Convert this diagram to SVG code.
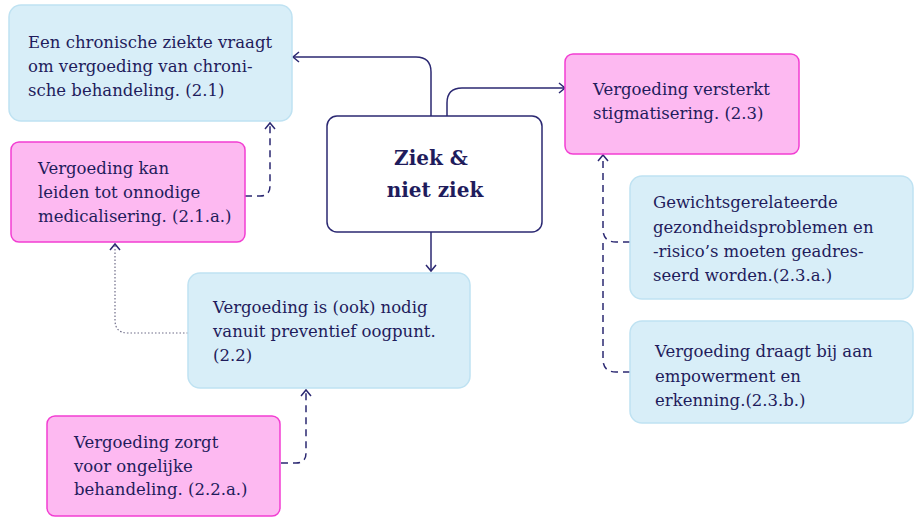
<svg xmlns="http://www.w3.org/2000/svg" width="919" height="525" viewBox="0 0 919 525">
<style>
.blue{fill:#d8eef8;stroke:#bfe2f2;stroke-width:1.5}
.pink{fill:#fdb9f1;stroke:#f23ed2;stroke-width:1.5}
.main{fill:#ffffff;stroke:#2b2872;stroke-width:1.5}
.t{font-family:"DejaVu Serif","Liberation Serif",serif;font-size:16.5px;fill:#1f1c5c}
.tb{font-family:"DejaVu Serif","Liberation Serif",serif;font-size:20px;font-weight:bold;fill:#1f1c5c}
.c{fill:none;stroke:#2b2872;stroke-width:1.5}
.d{stroke-dasharray:7 5}
.dot{stroke:#6e6c88;stroke-width:1.2;stroke-dasharray:1.5 2}
</style>
<defs>
<marker id="ah" viewBox="-8 -6 10 12" markerWidth="10" markerHeight="12" refX="0" refY="0" orient="auto" markerUnits="userSpaceOnUse">
<path d="M-6,-5 L0,0 L-6,5" fill="none" stroke="#2b2872" stroke-width="1.5"/>
</marker>
</defs>
<g id="connectors">
<path class="c" d="M431,116 V72 Q431,57 416,57 H293" marker-end="url(#ah)"/>
<path class="c" d="M447,116 V103 Q447,88 462,88 H565" marker-end="url(#ah)"/>
<path class="c" d="M431,232 V271" marker-end="url(#ah)"/>
<path class="c dot" d="M188,333 H128 Q115,333 115,320 V244" marker-end="url(#ah)"/>
<path class="c d" d="M245,196 H260 Q270,196 270,186 V123" marker-end="url(#ah)"/>
<path class="c d" d="M281,463 H296 Q306,463 306,453 V390" marker-end="url(#ah)"/>
<path class="c d" d="M630,242 H616 Q603,242 603,229 V155" marker-end="url(#ah)"/>
<path class="c d" d="M630,372 H616 Q603,372 603,359 V240"/>
</g>
<g id="n21">
<rect class="blue" x="9" y="5" width="283" height="116" rx="12"/>
<text class="t" x="28" y="48">Een chronische ziekte vraagt</text>
<text class="t" x="28" y="72">om vergoeding van chroni-</text>
<text class="t" x="28" y="96">sche behandeling. (2.1)</text>
</g>
<g id="n21a">
<rect class="pink" x="11" y="142" width="234" height="100" rx="8"/>
<text class="t" x="38" y="174">Vergoeding kan</text>
<text class="t" x="38" y="198">leiden tot onnodige</text>
<text class="t" x="38" y="222">medicalisering. (2.1.a.)</text>
</g>
<g id="center">
<rect class="main" x="327" y="116" width="215" height="116" rx="10"/>
<text class="tb" x="431" y="165" text-anchor="middle">Ziek &amp;</text>
<text class="tb" x="435" y="197" text-anchor="middle">niet ziek</text>
</g>
<g id="n22">
<rect class="blue" x="188" y="273" width="282" height="115" rx="12"/>
<text class="t" x="213" y="313">Vergoeding is (ook) nodig</text>
<text class="t" x="213" y="337">vanuit preventief oogpunt.</text>
<text class="t" x="213" y="361">(2.2)</text>
</g>
<g id="n22a">
<rect class="pink" x="47" y="416" width="233" height="100" rx="8"/>
<text class="t" x="74" y="448">Vergoeding zorgt</text>
<text class="t" x="74" y="472">voor ongelijke</text>
<text class="t" x="74" y="495">behandeling. (2.2.a.)</text>
</g>
<g id="n23">
<rect class="pink" x="565" y="54" width="234" height="100" rx="8"/>
<text class="t" x="593" y="95">Vergoeding versterkt</text>
<text class="t" x="593" y="119">stigmatisering. (2.3)</text>
</g>
<g id="n23a">
<rect class="blue" x="630" y="176" width="283" height="123" rx="12"/>
<text class="t" x="653" y="208">Gewichtsgerelateerde</text>
<text class="t" x="653" y="233">gezondheidsproblemen en</text>
<text class="t" x="653" y="257">-risico’s moeten geadres-</text>
<text class="t" x="653" y="281">seerd worden.(2.3.a.)</text>
</g>
<g id="n23b">
<rect class="blue" x="630" y="321" width="283" height="102" rx="12"/>
<text class="t" x="655" y="357">Vergoeding draagt bij aan</text>
<text class="t" x="655" y="382">empowerment en</text>
<text class="t" x="655" y="406">erkenning.(2.3.b.)</text>
</g>
</svg>
